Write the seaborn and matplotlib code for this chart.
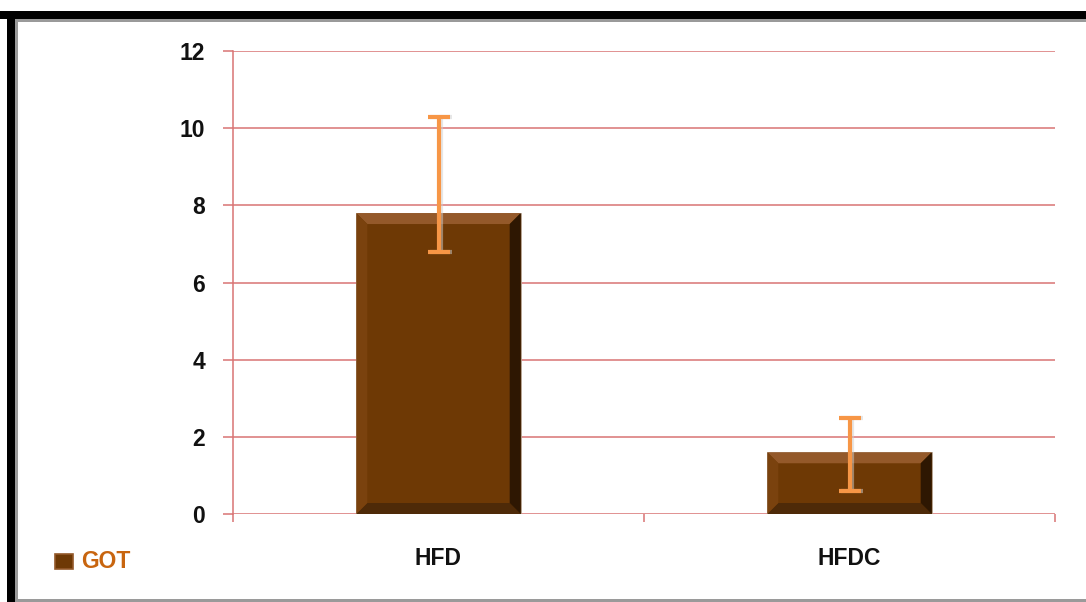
import matplotlib
matplotlib.use("Agg")
import matplotlib.pyplot as plt
import seaborn as sns
import pandas as pd
import numpy as np
from matplotlib.patches import Polygon, Rectangle

categories = ["HFD", "HFDC"]
means = [7.8, 1.6]
err_low = [6.8, 0.6]
err_high = [10.3, 2.5]
yticks = [0, 2, 4, 6, 8, 10, 12]
series_name = "GOT"

sns.set_theme(style="white")
plt.rcParams["font.family"] = ["Liberation Sans", "DejaVu Sans"]

W, H = 1086, 602
fig = plt.figure(figsize=(W / 100, H / 100), dpi=100)
fig.patch.set_facecolor("white")
ax = fig.add_axes([233 / W, 1 - 514 / H, (1055 - 233) / W, (514 - 51) / H])

df = pd.DataFrame({"cat": categories, "val": means})
bar_color = "#6E3905"
sns.barplot(data=df, x="cat", y="val", color=bar_color, width=0.4,
            errorbar=None, ax=ax, saturation=1, edgecolor="#B8A898", linewidth=0.6)

grid_c = "#D97474"
ax.set_xlim(-0.5, 1.5)
ax.set_ylim(0, 12)
ax.set_yticks(yticks)
ax.set_yticklabels([str(t) for t in yticks])
for t in yticks:
    ax.axhline(t, color=grid_c, lw=1.1, zorder=0.5)
for s in ["top", "right", "bottom"]:
    ax.spines[s].set_visible(False)
ax.spines["left"].set_color(grid_c)
ax.spines["left"].set_linewidth(1.1)
ax.set_xlabel("")
ax.set_ylabel("")
ax.tick_params(axis="y", length=7.2, width=1.1, color=grid_c, pad=13,
               labelsize=16.5, left=True)
ax.set_xticks([0, 1])
ax.set_xticklabels(categories)
ax.set_xticks([-0.5, 0.5, 1.5], minor=True)
ax.tick_params(axis="x", which="major", length=0, pad=24, labelsize=16.5)
ax.tick_params(axis="x", which="minor", length=6, width=1.1, color=grid_c, bottom=True)
for lab in ax.get_xticklabels() + ax.get_yticklabels():
    lab.set_fontweight("bold")
    lab.set_color("#111111")

# bevel decoration using bar patch geometry
fig.canvas.draw()
inv = ax.transData.inverted()
pxx = (inv.transform((11, 0))[0] - inv.transform((0, 0))[0])
pyy = (inv.transform((0, 0))[1] - inv.transform((0, 11))[1])
for p in ax.patches:
    x0, y0 = p.get_x(), p.get_y()
    w, h = p.get_width(), p.get_height()
    x1, y1 = x0 + w, y0 + h
    dx, dy = pxx, abs(pyy)
    top = Polygon([(x0, y1), (x1, y1), (x1 - dx, y1 - dy), (x0 + dx, y1 - dy)],
                  closed=True, facecolor="#94592A", edgecolor="none", zorder=3)
    bot = Polygon([(x0, y0), (x1, y0), (x1 - dx, y0 + dy), (x0 + dx, y0 + dy)],
                  closed=True, facecolor="#4E2A08", edgecolor="none", zorder=3)
    right = Polygon([(x1, y0), (x1, y1), (x1 - dx, y1 - dy), (x1 - dx, y0 + dy)],
                    closed=True, facecolor="#2E1702", edgecolor="none", zorder=3)
    left = Polygon([(x0, y0), (x0, y1), (x0 + dx, y1 - dy), (x0 + dx, y0 + dy)],
                   closed=True, facecolor="#7A420E", edgecolor="none", zorder=3)
    for poly in (top, bot, right, left):
        ax.add_patch(poly)

xs = np.arange(len(categories))
yerr = np.array([np.array(means) - np.array(err_low), np.array(err_high) - np.array(means)])
ax.errorbar(xs + 0.005, means, yerr=yerr, fmt="none", ecolor="#cfcfcf",
            elinewidth=3, capsize=8, capthick=3, zorder=4, alpha=0.5)
ax.errorbar(xs, means, yerr=yerr, fmt="none", ecolor="#F79646",
            elinewidth=3, capsize=8, capthick=3, zorder=5)

# legend
fig.patches.append(Rectangle((55 / W, 1 - 569 / H), 18 / W, 15 / H,
                             transform=fig.transFigure, facecolor=bar_color,
                             edgecolor="#94592A", lw=1.2))
fig.text(81 / W, 1 - 561 / H, series_name, color="#C8650F", fontsize=16.5,
         fontweight="bold", va="center", ha="left")

# frame
fig.patches.append(Rectangle((0, 1 - 19 / H), 1, 8 / H, transform=fig.transFigure,
                             facecolor="black", edgecolor="none"))
fig.patches.append(Rectangle((7 / W, 0), 8 / W, 1 - 11 / H, transform=fig.transFigure,
                             facecolor="black", edgecolor="none"))
fig.patches.append(Rectangle((15 / W, 1 - 22 / H), 1, 3 / H, transform=fig.transFigure,
                             facecolor="#9a9a9a", edgecolor="none"))
fig.patches.append(Rectangle((15 / W, 0), 3 / W, 1 - 19 / H, transform=fig.transFigure,
                             facecolor="#9a9a9a", edgecolor="none"))
fig.patches.append(Rectangle((15 / W, 0), 1, 3 / H, transform=fig.transFigure,
                             facecolor="#9a9a9a", edgecolor="none"))

fig.savefig("out.png", dpi=100)
